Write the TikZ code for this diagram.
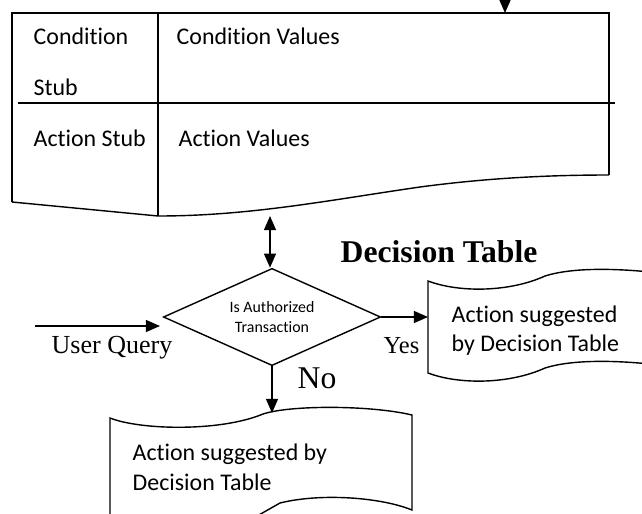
\documentclass[tikz,border=0pt]{standalone}
\usepackage{fontspec}
\setmainfont{Carlito}[Ligatures=NoCommon]
\newfontfamily\timesfont{Liberation Serif}
\usetikzlibrary{shapes.geometric}
\usetikzlibrary{arrows.meta}
\usetikzlibrary{positioning}

\begin{document}
\begin{tikzpicture}[x=0.025cm,y=-0.025cm,->,>={Triangle[length=10pt,width=8.5pt]},line width=1pt,
    main text/.style={anchor=base west,inner sep=0pt,font=\fontsize{17}{21}\selectfont},
    times text/.style={anchor=base west,inner sep=0pt,font=\timesfont\fontsize{18.5}{22}\selectfont},
    decision node/.style={diamond,draw,aspect=2.24,inner sep=0pt,minimum width=5.43cm,minimum height=2.43cm,
      align=center,font=\fontsize{11.3}{14.2}\selectfont}]
   \useasboundingbox (0,0) rectangle (642,513);
   \clip (0,0) rectangle (642,513);
   % decision table
   \draw[-] (12,202) -- (12,13) -- (609,13) -- (609,175);
   \draw[-] (609,175) .. controls (540,175) and (480,179) .. (420,187)
      .. controls (330,200) and (250,216) .. (158,216) -- (12,202);
   \draw[-] (158,13) -- (158,216);
   \draw[-] (18,103) -- (615,103);
   \node[main text] (cs1) at (33,44) {Condition};
   \node[main text] (cs2) at (33,95) {Stub};
   \node[main text] (cv) at (176,44) {Condition Values};
   \node[main text] (as) at (33,146) {Action Stub};
   \node[main text] (av) at (178,146) {Action Values};
   \node[anchor=base west,inner sep=0pt,font=\timesfont\bfseries\fontsize{22.5}{27}\selectfont] (dt) at (340,262) {Decision Table};
   % decision
   \node[decision node] (d) at (272,317) {Is Authorized\\Transaction};
   \node[times text] (uq) at (51,353) {User Query};
   \node[times text,font=\timesfont\fontsize{17.4}{21}\selectfont] (yes) at (383,353) {Yes};
   \node[times text,font=\timesfont\fontsize{22.5}{27}\selectfont] (no) at (297,388) {No};
   % right document
   \draw[-] (650,272) .. controls (610,268) and (570,268) .. (545,276)
      .. controls (510,292) and (460,293) .. (428,281) -- (428,373)
      .. controls (460,385) and (510,384) .. (545,368)
      .. controls (570,360) and (610,360) .. (650,364);
   \node[main text] (r1) at (451,322) {Action suggested};
   \node[main text] (r2) at (451,351) {by Decision Table};
   % bottom document
   \draw[-] (110,520) -- (110,418) .. controls (140,430) and (220,432) .. (263,414)
      .. controls (290,405) and (370,405) .. (412,415) -- (412,510)
      .. controls (380,497) and (320,493) .. (280,503) -- (250,520);
   \node[main text] (b1) at (132,460) {Action suggested by};
   \node[main text] (b2) at (132,490) {Decision Table};
   % connectors
   \coordinate (topin) at (505,-30);
   \coordinate (topout) at (505,13);
   \coordinate (tb) at (270,216);
   \coordinate (uqs) at (35,326);
   \coordinate (uqe) at (160,326);
   \coordinate (rd) at (428,317);
   \coordinate (bd) at (272,413);
   \path[->] (topin) edge (topout);
   \path[<->] (tb) edge (tb |- d.north);
   \path[->] (uqs) edge (uqe);
   \path[->] (d.east) edge (rd);
   \path[->] (d.south) edge (bd);
\end{tikzpicture}
\end{document}
